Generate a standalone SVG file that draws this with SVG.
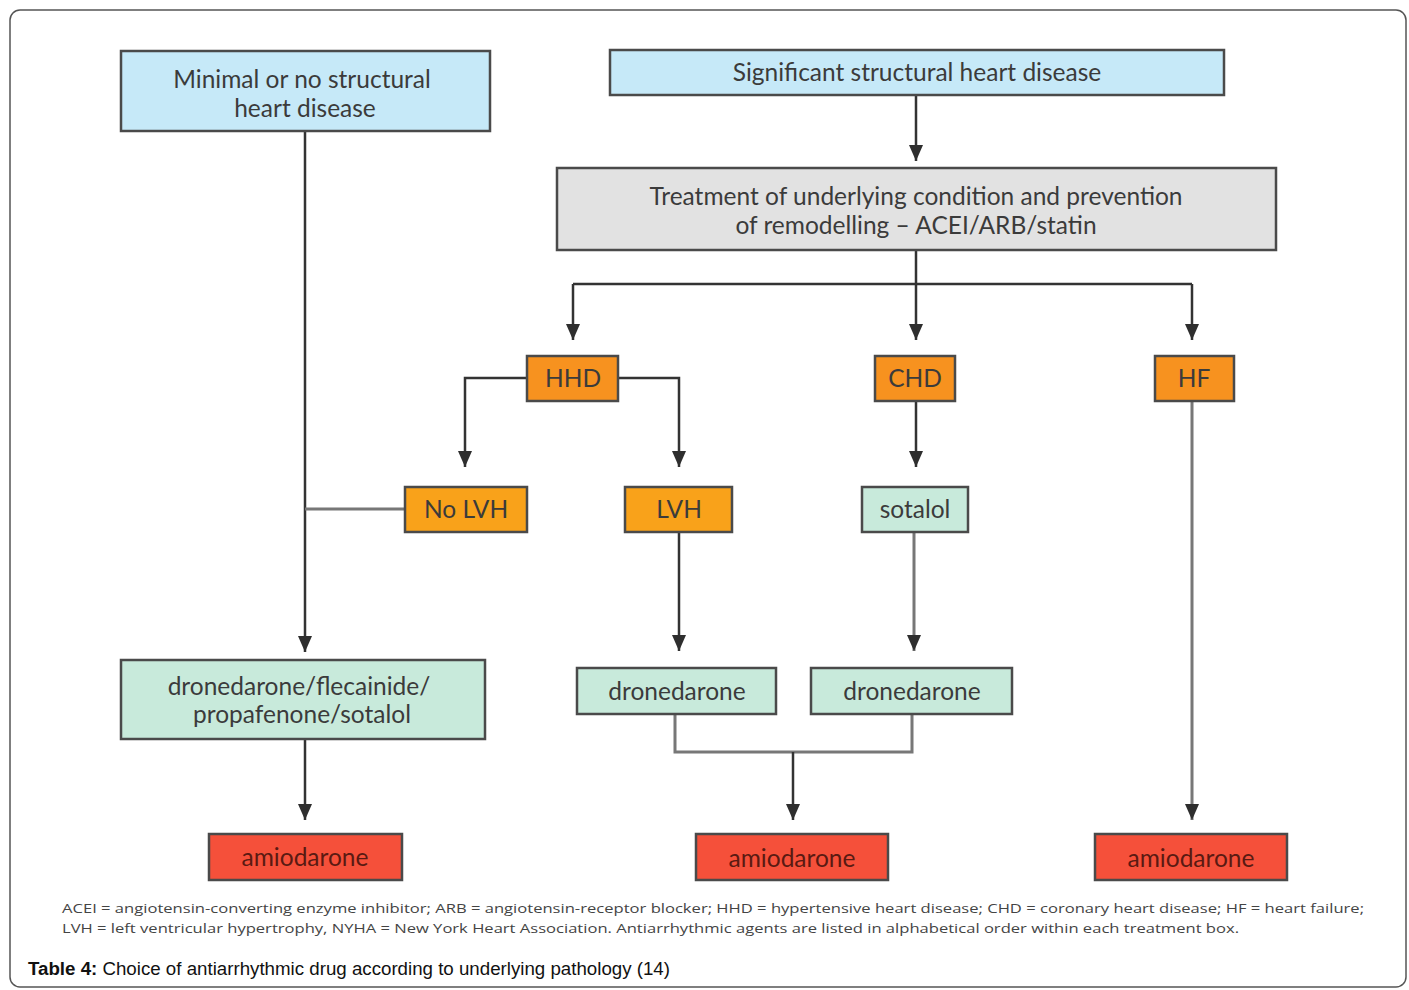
<svg xmlns="http://www.w3.org/2000/svg" width="1409" height="990" viewBox="0 0 1409 990">
<defs>
<style>
.box{stroke:#4a4a4a;stroke-width:2.5}
.blue{fill:#c6e9f8}
.grey{fill:#e2e2e2}
.orange{fill:#f7921f}
.orange2{fill:#f9a21a}
.mint{fill:#c8eadb}
.red{fill:#f5503a}
.t{font-family:Lato,"Open Sans",sans-serif;font-size:24.5px;fill:#3b3b3b;text-anchor:middle}
.tr{fill:#5a1a12}
.c{fill:none;stroke:#333;stroke-width:2.5}
.cg{fill:none;stroke:#777;stroke-width:3}
.fn{font-family:"Open Sans",sans-serif;font-size:12.5px;fill:#444}
</style>
</defs>
<rect x="10" y="10" width="1396" height="977" rx="10" fill="#fff" stroke="#555" stroke-width="1.5"/>

<g id="connectors">
<path class="c" d="M305,131 V652"/>
<path class="cg" d="M405,509 H305"/>
<path class="c" d="M916,95 V161"/>
<path class="c" d="M916,250 V340"/>
<path class="c" d="M573,284 H1192"/>
<path class="c" d="M573,284 V340"/>
<path class="c" d="M1192,284 V340"/>
<path class="c" d="M527,378 H465 V467"/>
<path class="c" d="M618,378 H679 V467"/>
<path class="c" d="M916,401 V467"/>
<path class="c" d="M679,532 V651"/>
<path class="cg" d="M914,532 V651"/>
<path class="cg" d="M675,714 V752 H912 V714"/>
<path class="c" d="M793,752 V820"/>
<path class="c" d="M305,739 V820"/>
<path class="cg" d="M1192,401 V820"/>
<g fill="#2e2e2e">
<path d="M298,636 L312,636 L305,652 Z"/>
<path d="M909,145 L923,145 L916,161 Z"/>
<path d="M566,324 L580,324 L573,340 Z"/>
<path d="M909,324 L923,324 L916,340 Z"/>
<path d="M1185,324 L1199,324 L1192,340 Z"/>
<path d="M458,451 L472,451 L465,467 Z"/>
<path d="M672,451 L686,451 L679,467 Z"/>
<path d="M909,451 L923,451 L916,467 Z"/>
<path d="M672,635 L686,635 L679,651 Z"/>
<path d="M907,635 L921,635 L914,651 Z"/>
<path d="M786,804 L800,804 L793,820 Z"/>
<path d="M298,804 L312,804 L305,820 Z"/>
<path d="M1185,804 L1199,804 L1192,820 Z"/>
</g>
</g>

<g id="minimal"><rect class="box blue" x="121" y="51" width="369" height="80"/>
<text class="t" x="302" y="88">Minimal or no structural</text><text class="t" x="305" y="117">heart disease</text></g>
<g id="significant"><rect class="box blue" x="610" y="50" width="614" height="45"/>
<text class="t" x="917" y="81">Significant structural heart disease</text></g>
<g id="treatment"><rect class="box grey" x="557" y="168" width="719" height="82"/>
<text class="t" x="916" y="205">Treatment of underlying condition and prevention</text><text class="t" x="916" y="234">of remodelling – ACEI/ARB/statin</text></g>
<g id="hhd"><rect class="box orange" x="527" y="356" width="91" height="45"/><text class="t" x="573" y="387">HHD</text></g>
<g id="chd"><rect class="box orange" x="875" y="356" width="80" height="45"/><text class="t" x="915" y="387">CHD</text></g>
<g id="hf"><rect class="box orange" x="1155" y="356" width="79" height="45"/><text class="t" x="1194" y="387">HF</text></g>
<g id="nolvh"><rect class="box orange2" x="405" y="487" width="122" height="45"/><text class="t" x="466" y="518">No LVH</text></g>
<g id="lvh"><rect class="box orange2" x="625" y="487" width="107" height="45"/><text class="t" x="679" y="518">LVH</text></g>
<g id="sotalol"><rect class="box mint" x="862" y="487" width="106" height="45"/><text class="t" x="915" y="518">sotalol</text></g>
<g id="drugs"><rect class="box mint" x="121" y="660" width="364" height="79"/>
<text class="t" x="299" y="695">dronedarone/flecainide/</text><text class="t" x="302" y="723">propafenone/sotalol</text></g>
<g id="dron1"><rect class="box mint" x="577" y="668" width="199" height="46"/><text class="t" x="677" y="700">dronedarone</text></g>
<g id="dron2"><rect class="box mint" x="811" y="668" width="201" height="46"/><text class="t" x="912" y="700">dronedarone</text></g>
<g id="amio1"><rect class="box red" x="209" y="834" width="193" height="46"/><text class="t tr" x="305" y="866">amiodarone</text></g>
<g id="amio2"><rect class="box red" x="696" y="834" width="192" height="46"/><text class="t tr" x="792" y="867">amiodarone</text></g>
<g id="amio3"><rect class="box red" x="1095" y="834" width="192" height="46"/><text class="t tr" x="1191" y="867">amiodarone</text></g>

<text class="fn" x="62" y="913" textLength="1302" lengthAdjust="spacingAndGlyphs">ACEI = angiotensin-converting enzyme inhibitor; ARB = angiotensin-receptor blocker; HHD = hypertensive heart disease; CHD = coronary heart disease; HF = heart failure;</text>
<text class="fn" x="62" y="933" textLength="1177" lengthAdjust="spacingAndGlyphs">LVH = left ventricular hypertrophy, NYHA = New York Heart Association. Antiarrhythmic agents are listed in alphabetical order within each treatment box.</text>
<text x="28" y="975" font-family="Liberation Sans, Arial, sans-serif" font-size="18.7px" fill="#111" textLength="642" lengthAdjust="spacingAndGlyphs"><tspan font-weight="bold">Table 4:</tspan> Choice of antiarrhythmic drug according to underlying pathology (14)</text>
</svg>
